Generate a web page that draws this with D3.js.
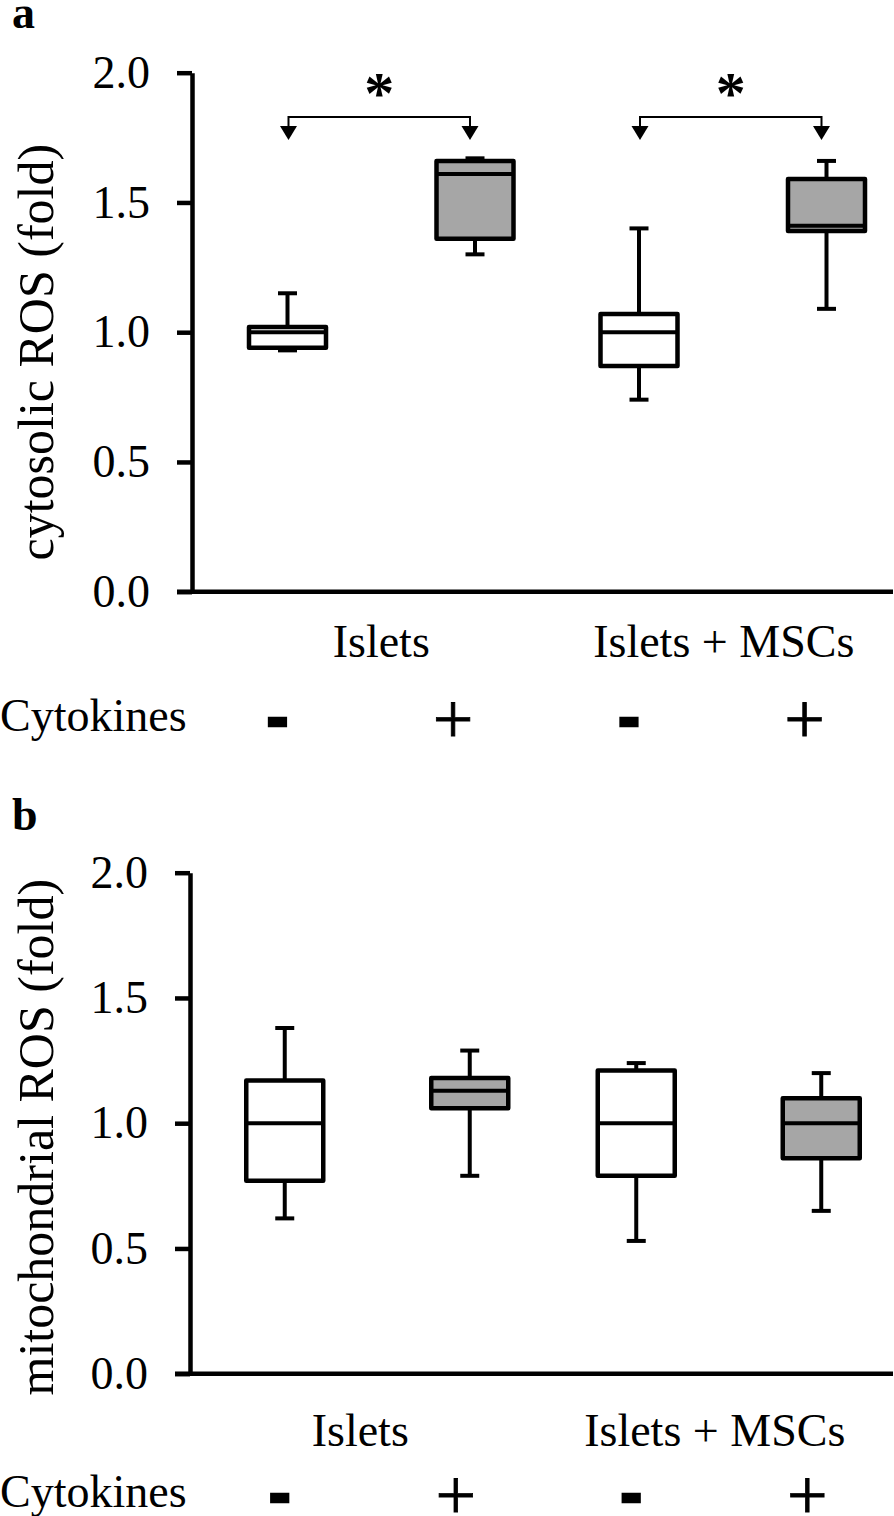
<!DOCTYPE html>
<html><head><meta charset="utf-8">
<script src="https://cdn.jsdelivr.net/npm/d3@7"></script>
<style>body{margin:0;background:#fff} svg{display:block}</style>
</head><body>
<svg id="chart" width="894" height="1516"></svg>
<script>
// ---------- data ----------
const groups = ["Islets", "Islets + MSCs"];
const cytokines = ["-", "+"];
const yTicks = [0, 0.5, 1.0, 1.5, 2.0];

// panel a : cytosolic ROS (order: Islets -, Islets +, Islets+MSCs -, Islets+MSCs +)
const cytoMin    = [0.93, 1.30, 0.74, 1.09];
const cytoQ1     = [0.94, 1.36, 0.87, 1.39];
const cytoMedian = [1.00, 1.61, 1.00, 1.41];
const cytoQ3     = [1.02, 1.66, 1.07, 1.59];
const cytoMax    = [1.15, 1.67, 1.40, 1.66];

// panel b : mitochondrial ROS
const mitoMin    = [0.62, 0.79, 0.53, 0.65];
const mitoQ1     = [0.77, 1.06, 0.79, 0.86];
const mitoMedian = [1.00, 1.13, 1.00, 1.00];
const mitoQ3     = [1.17, 1.18, 1.21, 1.10];
const mitoMax    = [1.38, 1.29, 1.24, 1.20];

const cytoSignificant = [true, true];   // per group, "*"
const mitoSignificant = [false, false];

// ---------- helpers ----------
function buildStats(mn, q1, md, q3, mx) {
  const out = [];
  groups.forEach((g, gi) => cytokines.forEach((c, ci) => {
    const i = gi * 2 + ci;
    out.push({group: g, cyt: c, min: mn[i], q1: q1[i], median: md[i], q3: q3[i], max: mx[i]});
  }));
  return out;
}

const panels = [
  {letter: "a", title: "cytosolic ROS (fold)", top: 72.7, bottom: 591.7, axisX: 192, axisRight: 893, shift: 0,
   inner: 93.75, stats: buildStats(cytoMin, cytoQ1, cytoMedian, cytoQ3, cytoMax), sig: cytoSignificant,
   letterY: 28, catY: 657, cytY: 731, catDx: [0, -9], signDx: {"-": -10, "+": -22}, titleDy: 20},
  {letter: "b", title: "mitochondrial ROS (fold)", top: 872.7, bottom: 1373.7, axisX: 190, axisRight: 893, shift: -2,
   inner: 92.5, stats: buildStats(mitoMin, mitoQ1, mitoMedian, mitoQ3, mitoMax), sig: mitoSignificant,
   letterY: 830, catY: 1446, cytY: 1507, catDx: [-17, -14], signDx: {"-": -5, "+": -14}, titleDy: 14}
];

const svg = d3.select("#chart");
const serif = "'Liberation Serif','Times New Roman',serif";
const FS = 46;
const boxW = 77, capW = 19;
const grey = "#a6a6a6";

panels.forEach(p => {
  const g = svg.append("g");
  const y = d3.scaleLinear().domain([0, 2]).range([p.bottom, p.top]);
  const xGroup = d3.scaleBand().domain(groups)
      .range([p.axisX + 13.5 + p.shift, p.axisX + 716.5 + p.shift])
      .paddingInner(0).paddingOuter(0);
  const xCyt = d3.scalePoint().domain(cytokines).range([-p.inner, p.inner]);
  const cx = d => xGroup(d.group) + xGroup.bandwidth() / 2 + xCyt(d.cyt);

  // panel letter
  g.append("text").attr("x", 12).attr("y", p.letterY)
    .attr("font-family", serif).attr("font-weight", "bold").attr("font-size", 46)
    .text(p.letter);

  // y axis
  const yAxis = d3.axisLeft(y).tickValues(yTicks).tickFormat(d3.format(".1f"))
      .tickSize(15).tickSizeOuter(0).tickPadding(27);
  const ax = g.append("g").attr("transform", `translate(${p.axisX},0)`).call(yAxis);
  ax.select(".domain").attr("stroke", "#000").attr("stroke-width", 4.5);
  ax.selectAll(".tick line").attr("stroke", "#000").attr("stroke-width", 4.5);
  ax.selectAll(".tick text").attr("font-family", serif).attr("font-size", FS).attr("fill", "#000");

  // x axis line
  g.append("line").attr("x1", p.axisX - 15).attr("x2", p.axisRight)
    .attr("y1", y(0)).attr("y2", y(0)).attr("stroke", "#000").attr("stroke-width", 4.5);

  // y title
  const tcy = (p.top + p.bottom) / 2 + p.titleDy;
  g.append("text").attr("transform", `translate(53,${tcy}) rotate(-90)`)
    .attr("text-anchor", "middle").attr("font-family", serif).attr("font-size", 50)
    .text(p.title);

  // boxes
  const bx = g.selectAll("g.box").data(p.stats).join("g").attr("class", "box");
  bx.append("line").attr("x1", cx).attr("x2", cx).attr("y1", d => y(d.max)).attr("y2", d => y(d.q3))
    .attr("stroke", "#000").attr("stroke-width", 4);
  bx.append("line").attr("x1", cx).attr("x2", cx).attr("y1", d => y(d.min)).attr("y2", d => y(d.q1))
    .attr("stroke", "#000").attr("stroke-width", 4);
  bx.append("line").attr("x1", d => cx(d) - capW / 2).attr("x2", d => cx(d) + capW / 2)
    .attr("y1", d => y(d.max)).attr("y2", d => y(d.max)).attr("stroke", "#000").attr("stroke-width", 4);
  bx.append("line").attr("x1", d => cx(d) - capW / 2).attr("x2", d => cx(d) + capW / 2)
    .attr("y1", d => y(d.min)).attr("y2", d => y(d.min)).attr("stroke", "#000").attr("stroke-width", 4);
  bx.append("rect").attr("x", d => cx(d) - boxW / 2).attr("width", boxW)
    .attr("y", d => y(d.q3)).attr("height", d => y(d.q1) - y(d.q3))
    .attr("fill", d => d.cyt === "+" ? grey : "#fff").attr("stroke", "#000")
    .attr("stroke-width", 4.5).attr("stroke-linejoin", "round");
  bx.append("line").attr("x1", d => cx(d) - boxW / 2).attr("x2", d => cx(d) + boxW / 2)
    .attr("y1", d => y(d.median)).attr("y2", d => y(d.median))
    .attr("stroke", "#000").attr("stroke-width", 4);

  // significance brackets
  groups.forEach((grp, gi) => {
    if (!p.sig[gi]) return;
    const c0 = xGroup(grp) + xGroup.bandwidth() / 2;
    const xl = c0 + xCyt("-") + 1, xr = c0 + xCyt("+") - 5;
    const yl = y(1.829), ya = y(1.795), yt = y(1.741);
    g.append("path").attr("d", `M${xl},${ya}V${yl}H${xr}V${ya}`)
      .attr("fill", "none").attr("stroke", "#000").attr("stroke-width", 2);
    [xl, xr].forEach(xx => g.append("path")
      .attr("d", `M${xx - 8.5},${ya}L${xx + 8.5},${ya}L${xx},${yt}Z`).attr("fill", "#000"));
    g.append("text").attr("x", (xl + xr) / 2).attr("y", y(1.829) - 4)
      .attr("text-anchor", "middle").attr("font-family", serif).attr("font-weight", "bold")
      .attr("font-size", 60).text("*");
  });

  // category labels
  groups.forEach((grp, gi) => {
    g.append("text").attr("x", xGroup(grp) + xGroup.bandwidth() / 2 + p.catDx[gi]).attr("y", p.catY)
      .attr("text-anchor", "middle").attr("font-family", serif).attr("font-size", FS).text(grp);
  });

  // cytokine row
  g.append("text").attr("x", 0).attr("y", p.cytY).attr("font-family", serif).attr("font-size", FS)
    .text("Cytokines");
  p.stats.forEach(d => {
    const t = g.append("text").attr("x", cx(d) + p.signDx[d.cyt]).attr("text-anchor", "middle")
      .text(d.cyt);
    if (d.cyt === "+") {
      t.attr("y", p.cytY + 12).attr("font-family", serif).attr("font-size", 72)
        .attr("stroke", "#000").attr("stroke-width", 0.8);
    } else {
      t.attr("y", p.cytY + 8).attr("font-family", "'Liberation Sans',Arial,sans-serif")
        .attr("font-weight", "bold").attr("font-size", 66).attr("stroke", "#000").attr("stroke-width", 2.5);
    }
  });
});
</script>
</body></html>
